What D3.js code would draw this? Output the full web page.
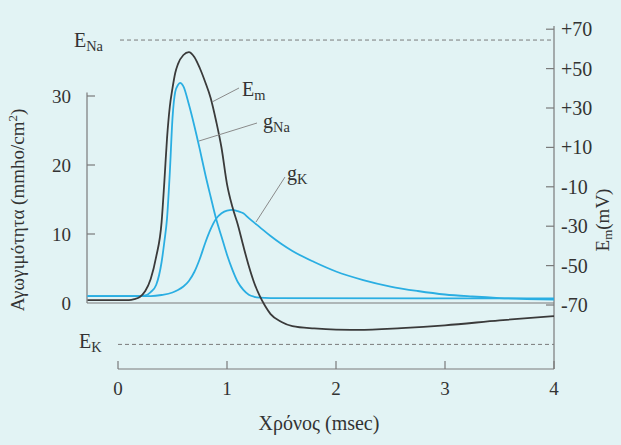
<!DOCTYPE html>
<html><head><meta charset="utf-8">
<script src="https://cdn.jsdelivr.net/npm/d3@7"></script>
<style>
html,body{margin:0;padding:0;background:#e2f3f4;}
svg{display:block;}
text{font-family:"Liberation Serif","Times New Roman",serif;fill:#333;}
</style></head><body>
<svg id="c" width="621" height="445"></svg>
<script>
// ---- data ----
const emTime   = [-0.28, 0.10, 0.15, 0.20, 0.25, 0.30, 0.35, 0.40, 0.425, 0.45, 0.475, 0.50, 0.525, 0.55, 0.60, 0.65, 0.70, 0.75, 0.80, 0.85, 0.90, 0.95, 1.00, 1.05, 1.10, 1.15, 1.20, 1.25, 1.30, 1.35, 1.40, 1.50, 1.60, 1.80, 2.00, 2.20, 2.60, 3.00, 3.50, 4.00];
const emValues = [-67.5,-67.5,-67.0,-65.9,-62.9,-56.8,-45.6,-27.9, -7.6, 14.8, 30.5, 40.1, 47.8, 52.3, 56.9, 58.4, 55.9, 50.3, 43.2, 35.1, 23.4,  9.7, -8.6,-20.3,-29.4,-40.1,-50.2,-58.8,-65.4,-70.5,-74.6,-78.6,-80.7,-81.9,-82.5,-82.6,-81.7,-80.3,-77.8,-75.6];
const gNaTime   = [-0.28, 0.20, 0.25, 0.30, 0.35, 0.40, 0.425, 0.45, 0.475, 0.50, 0.525, 0.55, 0.569, 0.60, 0.65, 0.70, 0.75, 0.80, 0.85, 0.90, 0.95, 1.00, 1.05, 1.10, 1.15, 1.20, 1.25, 1.30, 1.40, 4.00];
const gNaValues = [ 1.0,  1.0, 1.09, 1.59, 2.61, 5.94, 8.84, 12.3, 18.8, 26.8, 30.6, 31.6, 31.9, 31.4, 28.8, 25.7, 22.3, 18.7, 15.4, 12.2,  9.6,  7.0,  4.8,  3.0,  1.9,  1.2, 0.90, 0.78, 0.72, 0.65];
const gKTime   = [-0.28, 0.20, 0.30, 0.40, 0.50, 0.55, 0.60, 0.65, 0.70, 0.75, 0.80, 0.85, 0.90, 0.95, 1.00, 1.05, 1.10, 1.15, 1.20, 1.30, 1.40, 1.50, 1.60, 1.80, 2.00, 2.25, 2.50, 2.75, 3.00, 3.25, 3.50, 3.75, 4.00];
const gKValues = [ 1.0,  1.0, 1.0, 1.16, 1.52, 1.88, 2.39, 3.19, 4.49, 6.38, 8.70, 10.7, 12.2, 13.0, 13.4, 13.5, 13.3, 13.0, 12.3, 11.0, 9.71, 8.55, 7.54, 5.94, 4.57, 3.33, 2.39, 1.74, 1.23, 0.94, 0.72, 0.58, 0.49];
const xTicks = [0,1,2,3,4];
const gTicks = [0,10,20,30];
const eTicks = [70,50,30,10,-10,-30,-50,-70];
const eTickLabels = ["+70","+50","+30","+10","-10","-30","-50","-70"];
const ENa = 64.5, EK = -90;

const svg = d3.select("#c");
const x = d3.scaleLinear().domain([0,4]).range([118,554]);
const yG = d3.scaleLinear().domain([0,30]).range([303,96]);
const yE = d3.scaleLinear().domain([-70,70]).range([305,29.2]);

const grey = "#7a7a7a";
const cyan = "#2aaee2";
const dark = "#3a3a3a";

// reversal potential dashed lines
svg.append("line").attr("x1",120).attr("x2",553).attr("y1",yE(ENa)).attr("y2",yE(ENa))
  .attr("stroke",grey).attr("stroke-width",1).attr("stroke-dasharray","4,3");
svg.append("line").attr("x1",118).attr("x2",554).attr("y1",yE(EK)).attr("y2",yE(EK))
  .attr("stroke",grey).attr("stroke-width",1).attr("stroke-dasharray","4,3");

// left axis (conductance)
const gl = svg.append("g");
gl.append("line").attr("x1",87).attr("x2",87).attr("y1",yG(30.5)).attr("y2",yG(0))
  .attr("stroke",grey).attr("stroke-width",1.2);
gTicks.forEach(v=>{
  if(v>0) gl.append("line").attr("x1",87).attr("x2",95).attr("y1",yG(v)).attr("y2",yG(v)).attr("stroke",grey).attr("stroke-width",1.2);
  gl.append("text").attr("x",71).attr("y",yG(v)).attr("dy","0.35em").attr("text-anchor","end")
    .attr("font-size",19).text(v);
});
// zero line
svg.append("line").attr("x1",87).attr("x2",554).attr("y1",yG(0)).attr("y2",yG(0))
  .attr("stroke",grey).attr("stroke-width",1.2);

// right axis (Em)
const gr = svg.append("g");
gr.append("line").attr("x1",554).attr("x2",554).attr("y1",26).attr("y2",369)
  .attr("stroke",grey).attr("stroke-width",1.2);
eTicks.forEach((v,i)=>{
  gr.append("line").attr("x1",546).attr("x2",554).attr("y1",yE(v)).attr("y2",yE(v)).attr("stroke",grey).attr("stroke-width",1.2);
  gr.append("text").attr("x",561).attr("y",yE(v)).attr("dy","0.35em").attr("font-size",20).text(eTickLabels[i]);
});

// bottom axis (time)
const gb = svg.append("g");
gb.append("line").attr("x1",x(0)).attr("x2",x(4)).attr("y1",369).attr("y2",369)
  .attr("stroke",grey).attr("stroke-width",1.2);
xTicks.forEach(v=>{
  gb.append("line").attr("x1",x(v)).attr("x2",x(v)).attr("y1",361).attr("y2",369).attr("stroke",grey).attr("stroke-width",1.2);
  gb.append("text").attr("x",x(v)).attr("y",388).attr("dy","0.35em").attr("text-anchor","middle").attr("font-size",19).text(v);
});

// curves
const lineG = d3.line().x(d=>x(d[0])).y(d=>yG(d[1])).curve(d3.curveMonotoneX);
const lineE = d3.line().x(d=>x(d[0])).y(d=>yE(d[1])).curve(d3.curveMonotoneX);
svg.append("path").attr("d",lineG(d3.zip(gKTime,gKValues))).attr("fill","none").attr("stroke",cyan).attr("stroke-width",1.8);
svg.append("path").attr("d",lineG(d3.zip(gNaTime,gNaValues))).attr("fill","none").attr("stroke",cyan).attr("stroke-width",1.8);
svg.append("path").attr("d",lineE(d3.zip(emTime,emValues))).attr("fill","none").attr("stroke",dark).attr("stroke-width",1.8);

// leaders + labels
const leaders = [
  {x1:212,y1:102,x2:239,y2:88},
  {x1:199,y1:141,x2:257,y2:123},
  {x1:256,y1:222,x2:285,y2:177}
];
leaders.forEach(l=>svg.append("line").attr("x1",l.x1).attr("y1",l.y1).attr("x2",l.x2).attr("y2",l.y2)
  .attr("stroke","#8a8a8a").attr("stroke-width",1));

function subLabel(xp,yp,main,sub,size){
  const t = svg.append("text").attr("x",xp).attr("y",yp).attr("font-size",size);
  t.append("tspan").text(main);
  t.append("tspan").attr("font-size",size*0.72).attr("dy",4).text(sub);
  return t;
}
subLabel(242,96,"E","m",20);
subLabel(263,128,"g","Na",20);
subLabel(287,180,"g","K",20);
subLabel(74,47,"E","Na",20);
subLabel(79,348,"E","K",20);

// axis titles
svg.append("text").attr("x",319).attr("y",430).attr("text-anchor","middle").attr("font-size",20).text("Χρόνος (msec)");
const yt = svg.append("text").attr("transform","translate(24,210) rotate(-90)").attr("text-anchor","middle").attr("font-size",19);
yt.append("tspan").text("Αγωγιμότητα (mmho/cm");
yt.append("tspan").attr("dy",-7).attr("font-size",13).text("2");
yt.append("tspan").attr("dy",7).text(")");
const et = svg.append("text").attr("transform","translate(609,220) rotate(-90)").attr("text-anchor","middle").attr("font-size",19);
et.append("tspan").text("E");
et.append("tspan").attr("font-size",13).attr("dy",3).text("m");
et.append("tspan").attr("dy",-3).text("(mV)");
</script>
</body></html>
